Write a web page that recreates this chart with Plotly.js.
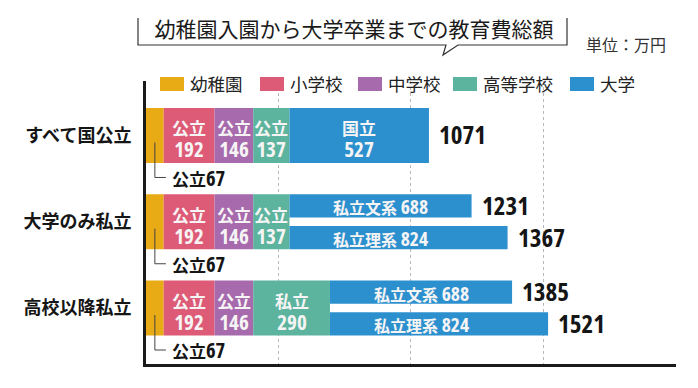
<!DOCTYPE html>
<html><head><meta charset="utf-8">
<script src="https://cdn.plot.ly/plotly-3.0.1.min.js"></script>
<style>html,body{margin:0;padding:0;background:#fff}#chart{width:698px;height:388px}</style>
</head><body><div id="chart"></div>
<script>
// ---- data ----
const categories = ['すべて国公立', '大学のみ私立', '高校以降私立'];
const stageNames = ['幼稚園', '小学校', '中学校', '高等学校', '大学'];
const kinder = [67, 67, 67];
const elementary = [192, 192, 192];
const middle = [146, 146, 146];
const high = [137, 137, 290];
const univA = [527, 688, 688];       // 国立 / 私立文系
const univB = [null, 824, 824];      // 私立理系
const kinderLabel = ['公立', '公立', '公立'];
const elemLabel = ['公立', '公立', '公立'];
const middleLabel = ['公立', '公立', '公立'];
const highLabel = ['公立', '公立', '私立'];
const univALabel = ['国立', '私立文系', '私立文系'];
const univBLabel = [null, '私立理系', '私立理系'];
const totalsA = [1071, 1231, 1385];
const totalsB = [null, 1367, 1521];
const titleText = '幼稚園入園から大学卒業までの教育費総額';
const unitText = '単位：万円';

// ---- style ----
const COLORS = ['#E8AB16', '#DD5B76', '#A66AAD', '#5CB49E', '#2C90CF'];
const JP = "'Noto Sans CJK JP', 'Noto Sans CJK SC', sans-serif";
const W = 698, H = 388;
const M = {l: 146, r: 22, t: 81, b: 24};
const PW = W - M.l - M.r, PH = H - M.t - M.b;
const px = v => (v - M.l) / PW;
const py = v => (H - M.b - v) / PH;
const FULL = 0.637, SUB = 0.27, GAP = 0.097;
const TOPOFF = -FULL / 2, BOTOFF = -FULL / 2 + SUB + GAP;
const SUBC = FULL / 2 - SUB / 2;
const TXT = '#f6f4f4';
const num = (v, size, stretch) =>
  `<span style="font-family:Open Sans;font-stretch:${stretch || 'semi-condensed'};font-weight:bold;font-size:${size}px">${v}</span>`;

const rows = categories.map((c, i) => i);
const add = (a, b) => a.map((v, i) => v + b[i]);
const b1 = kinder.slice();
const b2 = add(b1, elementary);
const b3 = add(b2, middle);
const b4 = add(b3, high);

function bar(name, x, base, color, width, offset, y) {
  return {type: 'bar', orientation: 'h', name, y: y || rows, x, base,
    width, offset, marker: {color, line: {width: 0}}, hoverinfo: 'skip', showlegend: false};
}
const traces = [
  bar(stageNames[0], kinder, rows.map(() => 0), COLORS[0], FULL, TOPOFF),
  bar(stageNames[1], elementary, b1, COLORS[1], FULL, TOPOFF),
  bar(stageNames[2], middle, b2, COLORS[2], FULL, TOPOFF),
  bar(stageNames[3], high, b3, COLORS[3], FULL, TOPOFF),
  bar(stageNames[4], univA, b4, COLORS[4], univB.map(v => v == null ? FULL : SUB), TOPOFF),
];
const bRows = rows.filter(i => univB[i] != null);
traces.push(bar(stageNames[4] + '(理系)', bRows.map(i => univB[i]), bRows.map(i => b4[i]), COLORS[4], SUB, BOTOFF, bRows));

const ann = [];
const totalFont = {family: JP, size: 25, color: '#151515'};
const total = (x, y, v) => ({x, y, xref: 'x', yref: 'y', xanchor: 'left', yanchor: 'middle', xshift: 8, yshift: 1,
  showarrow: false, text: num(v, 25, 'condensed'), font: totalFont});
// inner two-line labels
function inner(label, v, base, i) {
  ann.push({x: base[i] + v[i] / 2, y: i, xref: 'x', yref: 'y', showarrow: false,
    text: `${label[i]}<br>${num(v[i], 21)}`, yshift: -4,
    font: {family: JP, size: 17, color: TXT, weight: 'bold'}});
}
rows.forEach(i => {
  inner(elemLabel, elementary, b1, i);
  inner(middleLabel, middle, b2, i);
  inner(highLabel, high, b3, i);
  if (univB[i] == null) {
    inner(univALabel, univA, b4, i);
    ann.push(total(b4[i] + univA[i], i, totalsA[i]));
  } else {
    const cx = b4[i] + univA[i] / 2;
    ann.push({x: cx, y: i - SUBC, xref: 'x', yref: 'y', showarrow: false, yshift: -1,
      text: `${univALabel[i]} ${num(univA[i], 19.5)}`, font: {family: JP, size: 16, color: TXT, weight: 'bold'}});
    ann.push({x: cx, y: i + SUBC, xref: 'x', yref: 'y', showarrow: false, yshift: -1,
      text: `${univBLabel[i]} ${num(univB[i], 19.5)}`, font: {family: JP, size: 16, color: TXT, weight: 'bold'}});
    ann.push(total(b4[i] + univA[i], i - SUBC, totalsA[i]));
    ann.push(total(b4[i] + univB[i], i + SUBC, totalsB[i]));
  }
  // kindergarten callout
  ann.push({x: kinder[i] / 2, y: i + 0.49, xref: 'x', yref: 'y', xanchor: 'left', yanchor: 'middle', xshift: 15, showarrow: false,
    text: `<b>${kinderLabel[i]}</b>${num(kinder[i], 20.5)}`, font: {family: JP, size: 17, color: '#151515'}});
});

// unit label
ann.push({x: px(584), y: py(44), xref: 'paper', yref: 'paper', xanchor: 'left', yanchor: 'middle', showarrow: false,
  text: unitText, font: {family: JP, size: 16, color: '#333'}});

// manual legend
const LEG_X = [160, 260, 358, 453, 570];
const shapes = [];
stageNames.forEach((n, k) => {
  shapes.push({type: 'rect', xref: 'paper', yref: 'paper', x0: px(LEG_X[k]), x1: px(LEG_X[k] + 24),
    y0: py(91), y1: py(77), fillcolor: COLORS[k], line: {width: 0}});
  ann.push({x: px(LEG_X[k] + 28), y: py(84), xref: 'paper', yref: 'paper', xanchor: 'left', yanchor: 'middle', showarrow: false,
    text: n, font: {family: JP, size: 17.5, color: '#222'}});
});

// leader lines
rows.forEach(i => {
  shapes.push({type: 'path', xref: 'x', yref: 'y', xsizemode: 'pixel', ysizemode: 'pixel',
    xanchor: kinder[i] / 2, yanchor: i, path: 'M0,-7 L0,-42 L11,-42', line: {color: '#444', width: 1}});
});

// title speech box
const P = (x, y) => `${px(x)},${py(y)}`;
shapes.push({type: 'path', xref: 'paper', yref: 'paper',
  path: `M${P(138, 18)} L${P(138, 45)} L${P(446, 45)} L${P(443, 55)} L${P(458, 45)} L${P(567, 45)} L${P(567, 18)}`,
  line: {color: '#333', width: 1.2}});

const layout = {
  width: W, height: H, margin: M, paper_bgcolor: '#fff', plot_bgcolor: '#fff',
  barmode: 'overlay', showlegend: false,
  title: {text: titleText, x: 354 / W, xref: 'container', xanchor: 'center', y: 1 - 30 / H, yref: 'container', yanchor: 'middle',
    font: {family: JP, size: 21, color: '#1a1a1a'}},
  xaxis: {range: [0, PW / 0.2647], tickvals: [500, 1000, 1500], showticklabels: false, ticks: '',
    showgrid: true, gridcolor: '#b8b8b8', griddash: 'dot', gridwidth: 1, zeroline: false,
    showline: true, linecolor: '#1a1a1a', linewidth: 3, fixedrange: true},
  yaxis: {range: [2 + 56 / 86.3, -54.5 / 86.3], tickvals: rows, ticktext: categories, ticks: '',
    ticklabelstandoff: 8, tickfont: {family: JP, size: 18, color: '#151515', weight: 'bold'},
    showgrid: false, zeroline: false, showline: true, linecolor: '#1a1a1a', linewidth: 3, fixedrange: true},
  annotations: ann, shapes: shapes,
};
Plotly.newPlot('chart', traces, layout, {displayModeBar: false, staticPlot: true});
</script></body></html>
